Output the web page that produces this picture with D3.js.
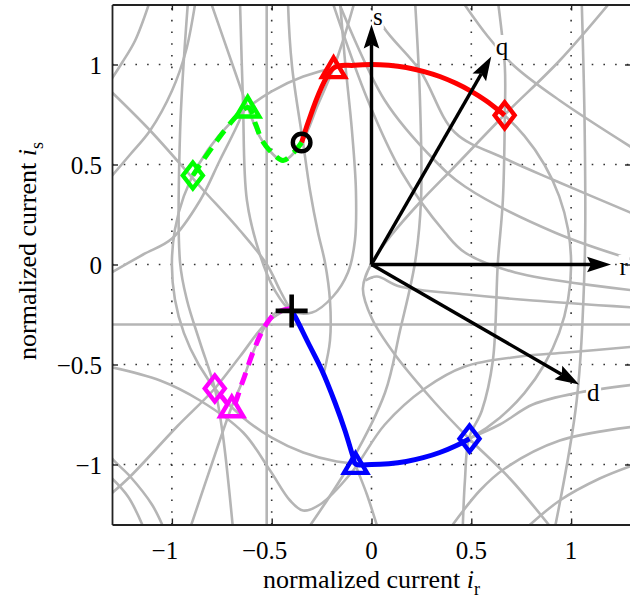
<!DOCTYPE html>
<html>
<head>
<meta charset="utf-8">
<script src="https://cdn.jsdelivr.net/npm/d3@7"></script>
<style>
  body { margin: 0; background: #fff; }
  svg { display: block; }
  text { font-family: "Liberation Serif", "Times New Roman", serif; }
</style>
</head>
<body>
<svg id="chart" width="630" height="600"></svg>
<script>
// ---- tick values ----
const xTicks = [-1, -0.5, 0, 0.5, 1];
const yTicks = [-1, -0.5, 0, 0.5, 1];

// ---- gray constraint curves (i_r, i_s) ----
const unitCircle = [[1,0],[0.985,0.174],[0.940,0.342],[0.866,0.5],[0.766,0.643],[0.643,0.766],[0.5,0.866],[0.342,0.940],[0.174,0.985],[0,1],[-0.174,0.985],[-0.342,0.940],[-0.5,0.866],[-0.643,0.766],[-0.766,0.643],[-0.866,0.5],[-0.940,0.342],[-0.985,0.174],[-1,0],[-0.985,-0.174],[-0.940,-0.342],[-0.866,-0.5],[-0.766,-0.643],[-0.643,-0.766],[-0.5,-0.866],[-0.342,-0.940],[-0.174,-0.985],[0,-1],[0.174,-0.985],[0.342,-0.940],[0.5,-0.866],[0.643,-0.766],[0.766,-0.643],[0.866,-0.5],[0.940,-0.342],[0.985,-0.174]];
const lineVert = [[-0.525,1.35],[-0.525,-1.35]];
const lineHorz = [[-1.35,-0.3],[1.35,-0.3]];
const curveV2 = [[1.053,1.32],[1.068,0.67],[1.068,0.01],[1.028,-0.68],[0.918,-1.32]];
const curveZa = [[0.633,1.32],[0.668,0.99],[0.668,0.75],[0.658,0.32],[0.633,0.01],[0.608,-0.48],[0.553,-0.73],[0.488,-0.87],[0.468,-1.08],[0.457,-1.32]];
const curveH1 = [[1.203,1.32],[0.943,1.02],[0.668,0.75],[0.417,0.49],[0.242,0.31],[0.102,0.15],[0.002,0.01],[-0.043,-0.12],[0.002,-0.27],[0.117,-0.45],[0.317,-0.69],[0.488,-0.87],[0.693,-1.07],[0.903,-1.32]];
const curveR1 = [[0.452,1.32],[0.583,1.14],[0.718,0.99],[0.943,0.82],[1.32,0.575]];
const curveG1 = [[-1.109,1.32],[-1.184,1.12],[-1.249,1.01],[-1.32,0.90]];
const curveG2 = [[-1.32,0.88],[-1.109,0.67],[-0.859,0.39],[-0.659,0.17],[-0.524,0.0],[-0.458,-0.13],[-0.403,-0.233],[-0.318,-0.39],[-0.248,-0.53],[-0.183,-0.69],[-0.133,-0.83],[-0.083,-0.993],[-0.023,-1.15],[0.032,-1.32]];
const curveG3 = [[-0.873,1.37],[-0.884,1.30],[-0.929,1.07],[-0.999,0.87],[-1.109,0.67],[-1.209,0.55],[-1.32,0.42]];
const curveG4 = [[-1.32,-0.05],[-1.144,0.05],[-0.999,0.13],[-0.859,0.32],[-0.76,0.52],[-0.68,0.68],[-0.63,0.79]];
const curveU1 = [[-0.808,1.32],[-0.693,0.99],[-0.62,0.785],[-0.548,0.62],[-0.443,0.52],[-0.35,0.61],[-0.268,0.80],[-0.19,0.982],[-0.133,1.15],[-0.083,1.32]];
const curveU2 = [[-0.659,1.32],[-0.644,0.82],[-0.624,0.32],[-0.559,0.05],[-0.484,-0.13],[-0.403,-0.23],[-0.298,-0.24],[-0.193,-0.16],[-0.118,-0.04],[-0.083,0.12],[-0.078,0.37],[-0.098,0.67],[-0.133,1.02],[-0.158,1.32]];
const curveA = [[-0.418,1.35],[-0.418,1.30],[-0.398,0.99],[-0.343,0.61],[-0.308,0.37],[-0.268,0.16],[-0.233,0.01],[-0.208,-0.18],[-0.208,-0.38],[-0.238,-0.54]];
const curveL2 = [[-1.32,-1.16],[-1.209,-1.06],[-0.974,-0.81],[-0.785,-0.62],[-0.659,-0.46],[-0.524,-0.29],[-0.403,-0.213]];
const curveK1 = [[-1.36,-0.88],[-1.299,-0.97],[-1.209,-1.06],[-1.10,-1.20],[-1.04,-1.32]];
const curveK2 = [[-1.14,-1.32],[-1.22,-1.16],[-1.32,-1.05]];
const curveM = [[-0.909,-1.32],[-0.784,-0.95],[-0.70,-0.71],[-0.649,-0.59],[-0.594,-0.44],[-0.534,-0.31],[-0.479,-0.24],[-0.403,-0.22]];
const curveC4 = [[-0.919,1.32],[-0.959,0.66],[-0.959,0.01],[-0.924,-0.18],[-0.859,-0.39],[-0.785,-0.62],[-0.745,-0.85],[-0.694,-1.32]];
const curveB1 = [[-1.32,-0.51],[-1.059,-0.58],[-0.859,-0.68],[-0.643,-0.84],[-0.508,-1.03],[-0.408,-1.18],[-0.343,-1.23],[-0.258,-1.20],[-0.10,-1.04],[0.067,-0.80],[0.267,-0.62],[0.468,-0.51],[0.743,-0.46],[0.978,-0.44],[1.32,-0.41]];
const curveE = [[0.218,1.32],[0.243,0.82],[0.248,0.32],[0.218,0.01],[0.143,-0.33],[0.068,-0.64],[-0.098,-0.98],[-0.318,-1.32]];
const curveR2 = [[-0.03,-0.08],[0.027,-0.06],[0.142,-0.11],[0.478,-0.15],[0.808,-0.18],[1.32,-0.215]];
const curveLR0 = [[0.488,-0.87],[0.643,-0.80],[0.808,-0.70],[1.04,-0.64],[1.32,-0.60]];
const curveLR1 = [[0.393,-1.32],[0.543,-1.13],[0.668,-1.02],[0.943,-0.88],[1.32,-0.81]];
const curveLR2 = [[0.773,-1.32],[0.943,-1.18],[1.143,-1.07],[1.32,-1.00]];
const curveB = [[-0.198,1.32],[-0.018,0.82],[0.152,0.46],[0.368,0.16],[0.468,0.06],[0.72,-0.04],[1.32,-0.13]];
const curveC = [[-0.168,1.32],[0.067,0.82],[0.317,0.52],[0.468,0.39],[0.918,0.16],[1.32,0.02]];
const curveRa = [[-0.01,1.34],[0.058,1.19],[0.243,0.97],[0.418,0.66],[0.668,0.53],[0.918,0.42],[1.32,0.25]];

const grayCurves = [curveV2, curveZa, curveH1, curveR1, curveG1, curveG2, curveG3, curveG4, curveU1, curveU2, curveA,
  curveL2, curveK1, curveK2, curveM, curveC4, curveB1, curveE, curveR2, curveLR0, curveLR1, curveLR2, curveB, curveC, curveRa];

// ---- current trajectories ----
const redPath = [[-0.35,0.61],[-0.19,0.982],[-0.087,0.996],[0,1],[0.087,0.996],[0.174,0.985],[0.259,0.966],[0.342,0.940],[0.423,0.906],[0.5,0.866],[0.574,0.819],[0.643,0.766],[0.667,0.746]];
const bluePath = [[-0.40,-0.232],[-0.383,-0.26],[-0.318,-0.39],[-0.248,-0.53],[-0.183,-0.69],[-0.133,-0.83],[-0.093,-0.96],[-0.08,-0.997],[0,-1],[0.087,-0.996],[0.174,-0.985],[0.259,-0.966],[0.342,-0.940],[0.423,-0.906],[0.491,-0.871]];
const greenPath = [[-0.35,0.61],[-0.39,0.56],[-0.443,0.52],[-0.49,0.55],[-0.548,0.62],[-0.58,0.70],[-0.62,0.785],[-0.895,0.445]];
const magentaPath = [[-0.40,-0.22],[-0.478,-0.242],[-0.533,-0.307],[-0.593,-0.437],[-0.648,-0.592],[-0.70,-0.714],[-0.74,-0.673],[-0.785,-0.62]];

// ---- markers ----
const circleMarkers = [{x:-0.35, y:0.61, color:"#000"}];
const plusMarkers = [{x:-0.40, y:-0.232, color:"#000"}];
const triangleMarkers = [{x:-0.19,y:0.982,color:"#ff0000"},{x:-0.08,y:-0.997,color:"#0000ff"},{x:-0.62,y:0.785,color:"#00ff00"},{x:-0.70,y:-0.714,color:"#ff00ff"}];
const diamondMarkers = [{x:0.667,y:0.746,color:"#ff0000"},{x:0.491,y:-0.871,color:"#0000ff"},{x:-0.895,y:0.445,color:"#00ff00"},{x:-0.785,y:-0.62,color:"#ff00ff"}];

// ---- reference frame arrows ----
const frameArrows = [
  {name:"s", x:0, y:1.2},
  {name:"r", x:1.2, y:0},
  {name:"q", x:0.6, y:1.04},
  {name:"d", x:1.04, y:-0.6}
];
const frameLabelOffsets = {s:[1.5,0.5], r:[8.5,10.5], q:[4.5,-1.5], d:[8,16.5]};

// ---- layout ----
const svg = d3.select("#chart");
const X0 = 112, X1 = 631, Y0 = 4.5, Y1 = 524.5;
const x = d3.scaleLinear().domain([-1.3, 1.3]).range([X0, X1]);
const y = d3.scaleLinear().domain([-1.3, 1.3]).range([Y1, Y0]);

svg.append("defs").append("clipPath").attr("id", "plotClip")
  .append("rect").attr("x", X0).attr("y", Y0).attr("width", X1 - X0).attr("height", Y1 - Y0);

const plot = svg.append("g").attr("clip-path", "url(#plotClip)");

// dotted grid
const grid = plot.append("g").attr("stroke", "#333").attr("stroke-width", 1.6)
  .attr("stroke-dasharray", "1.6,10.1");
grid.selectAll("line.gx").data(xTicks).join("line").attr("class", "gx")
  .attr("x1", d => x(d)).attr("x2", d => x(d)).attr("y1", Y1).attr("y2", Y0);
grid.selectAll("line.gy").data(yTicks).join("line").attr("class", "gy")
  .attr("y1", d => y(d)).attr("y2", d => y(d)).attr("x1", X0).attr("x2", X1);

// gray curves
const smooth = d3.line().x(d => x(d[0])).y(d => y(d[1])).curve(d3.curveCatmullRom.alpha(0.5));
const straight = d3.line().x(d => x(d[0])).y(d => y(d[1]));
const closed = d3.line().x(d => x(d[0])).y(d => y(d[1])).curve(d3.curveCatmullRomClosed.alpha(0.5));
const gray = plot.append("g").attr("fill", "none").attr("stroke", "#b5b5b5").attr("stroke-width", 2.6);
gray.append("path").attr("d", closed(unitCircle));
gray.append("path").attr("d", straight(lineVert));
gray.append("path").attr("d", straight(lineHorz));
gray.selectAll("path.c").data(grayCurves).join("path").attr("class", "c").attr("d", d => smooth(d));

// trajectories
const traj = plot.append("g").attr("fill", "none").attr("stroke-width", 5).attr("stroke-linejoin", "round");
traj.append("path").attr("d", smooth(redPath)).attr("stroke", "#ff0000");
traj.append("path").attr("d", smooth(bluePath)).attr("stroke", "#0000ff");
traj.append("path").attr("d", smooth(greenPath)).attr("stroke", "#00ff00").attr("stroke-dasharray", "13,8");
traj.append("path").attr("d", smooth(magentaPath)).attr("stroke", "#ff00ff").attr("stroke-dasharray", "13,8");

// markers
const mk = plot.append("g").attr("fill", "none").attr("stroke-width", 4.4).attr("stroke-linejoin", "miter");
mk.selectAll("path.tri").data(triangleMarkers).join("path").attr("class", "tri")
  .attr("transform", d => `translate(${x(d.x)},${y(d.y)})`)
  .attr("d", "M0,-10.5L11.5,9L-11.5,9Z").attr("stroke", d => d.color);
mk.selectAll("path.dia").data(diamondMarkers).join("path").attr("class", "dia")
  .attr("transform", d => `translate(${x(d.x)},${y(d.y)})`)
  .attr("d", "M0,-13L10,0L0,13L-10,0Z").attr("stroke", d => d.color);
mk.selectAll("circle").data(circleMarkers).join("circle")
  .attr("cx", d => x(d.x)).attr("cy", d => y(d.y)).attr("r", 8.8).attr("stroke", d => d.color);
mk.selectAll("path.plus").data(plusMarkers).join("path").attr("class", "plus")
  .attr("transform", d => `translate(${x(d.x)},${y(d.y)})`)
  .attr("d", "M-16,0H16M0,-16.5V16.5").attr("stroke", d => d.color).attr("stroke-width", 4.6);

// frame arrows
const arrows = svg.append("g");
const ox = x(0), oy = y(0);
frameArrows.forEach(a => {
  const tx = x(a.x), ty = y(a.y);
  const len = Math.hypot(tx - ox, ty - oy);
  const ux = (tx - ox) / len, uy = (ty - oy) / len;
  const nx = -uy, ny = ux;
  const L = 24, W = 7.8, notch = 4;
  arrows.append("line").attr("x1", ox).attr("y1", oy)
    .attr("x2", tx - (L - notch) * ux).attr("y2", ty - (L - notch) * uy)
    .attr("stroke", "#000").attr("stroke-width", 3.4);
  const pts = [[tx, ty], [tx - L * ux + W * nx, ty - L * uy + W * ny],
               [tx - (L - notch) * ux, ty - (L - notch) * uy], [tx - L * ux - W * nx, ty - L * uy - W * ny]];
  arrows.append("path").attr("d", "M" + pts.map(p => p.join(",")).join("L") + "Z").attr("fill", "#000");
  const off = frameLabelOffsets[a.name];
  const lbl = arrows.append("text").attr("x", tx + off[0]).attr("y", ty + off[1])
    .attr("font-size", 25).attr("fill", "#000").text(a.name);
  const bb = lbl.node().getBBox();
  arrows.insert("rect", "text").attr("x", bb.x - 1).attr("y", bb.y + 2).attr("width", bb.width + 2).attr("height", bb.height - 3)
    .attr("fill", "#fff");
});
// label backgrounds sit over the curves but under the arrows
arrows.selectAll("rect").lower();

// axes box with inward ticks
const axB = svg.append("g").attr("transform", `translate(0,${Y1})`)
  .call(d3.axisBottom(x).tickValues(xTicks).tickSizeInner(-6).tickSizeOuter(0).tickFormat(""));
const axT = svg.append("g").attr("transform", `translate(0,${Y0})`)
  .call(d3.axisTop(x).tickValues(xTicks).tickSizeInner(-6).tickSizeOuter(0).tickFormat(""));
const axL = svg.append("g").attr("transform", `translate(${X0},0)`)
  .call(d3.axisLeft(y).tickValues(yTicks).tickSizeInner(-6).tickSizeOuter(0).tickPadding(0).tickFormat(d3.format("")));
const axR = svg.append("g").attr("transform", `translate(${X1},0)`)
  .call(d3.axisRight(y).tickValues(yTicks).tickSizeInner(-6).tickSizeOuter(0).tickFormat(""));
[axB, axT, axL, axR].forEach(g => {
  g.select(".domain").attr("stroke", "#222").attr("stroke-width", 1.8);
  g.selectAll(".tick line").attr("stroke", "#222").attr("stroke-width", 1.4);
});
axL.selectAll(".tick text").attr("dy", null).attr("x", -10).attr("y", 8.5).attr("font-size", 25)
  .attr("font-family", "Liberation Serif, serif").attr("fill", "#000");

// x tick labels: digits centred on the tick, minus sign hanging to the left
const xLab = svg.append("g").attr("font-size", 25).attr("fill", "#000");
xTicks.forEach(v => {
  const digits = d3.format("")(Math.abs(v));
  const t = xLab.append("text").attr("x", x(v)).attr("y", 559).attr("text-anchor", "middle").text(digits);
  if (v < 0) {
    const w = t.node().getComputedTextLength();
    xLab.append("text").attr("x", x(v) - w / 2).attr("y", 559).attr("text-anchor", "end").text("\u2212");
  }
});

// axis titles
const xt = svg.append("text").attr("x", (X0 + X1) / 2).attr("y", 588).attr("text-anchor", "middle")
  .attr("font-size", 26).attr("fill", "#000");
xt.append("tspan").text("normalized current ");
xt.append("tspan").attr("font-style", "italic").text("i");
xt.append("tspan").attr("font-size", 18).attr("dy", 7).text("r");

const yt = svg.append("text").attr("transform", "translate(36,251) rotate(-90)").attr("text-anchor", "middle")
  .attr("font-size", 26).attr("fill", "#000");
yt.append("tspan").text("normalized current ");
yt.append("tspan").attr("font-style", "italic").text("i");
yt.append("tspan").attr("font-size", 18).attr("dy", 7).text("s");
</script>
</body>
</html>
